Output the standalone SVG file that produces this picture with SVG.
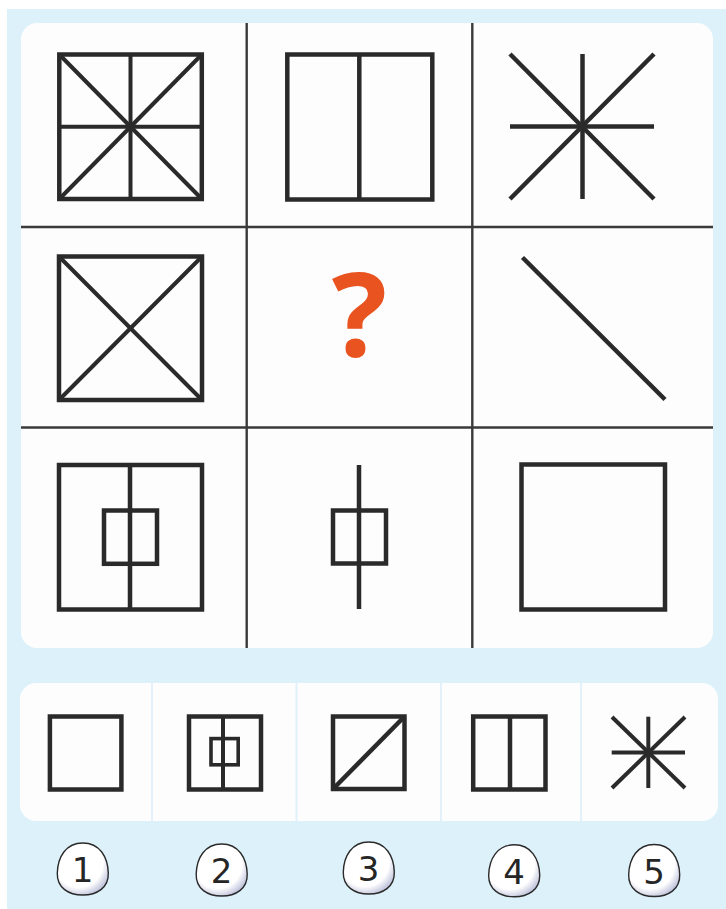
<svg xmlns="http://www.w3.org/2000/svg" width="726" height="909" viewBox="0 0 726 909">
<style>
.fig{fill:none;stroke:#2a2a2a;stroke-width:4.5}
.thin{fill:none;stroke:#2a2a2a;stroke-width:4}
.grid{stroke:#3a3a3a;stroke-width:2.4}
.sep{stroke:#e3f1fa;stroke-width:2}
.num{font-family:"DejaVu Sans","Liberation Sans",sans-serif;font-size:34px;fill:#262626;text-anchor:middle}
.q{font-family:"Open Sans","Noto Sans",sans-serif;font-weight:bold;font-size:116px;fill:#e8531f;text-anchor:middle}
</style>
<defs>
<radialGradient id="peb" cx="0.42" cy="0.38" r="0.68">
<stop offset="0.7" stop-color="#ffffff"/>
<stop offset="1" stop-color="#b7bbd6"/>
</radialGradient>
<path id="egg" d="M0,-26 C17,-26 25,-12 25.5,4 C26,19 14,26 0,26 C-14,26 -26,19 -25.5,4 C-25,-12 -17,-26 0,-26 Z" fill="url(#peb)" stroke="#2a2a2a" stroke-width="1.4"/>
</defs>
<rect x="0" y="0" width="726" height="909" fill="#ffffff"/>
<rect x="7" y="9" width="719" height="900" fill="#dcf1fa"/>
<rect id="panel" x="21" y="23" width="692" height="625" rx="16" fill="#fdfdfd"/>
<rect id="answers" x="20" y="683" width="698" height="138" rx="16" fill="#fdfdfd"/>
<g id="connectors">
<line class="grid" x1="246.7" y1="23" x2="246.7" y2="648"/>
<line class="grid" x1="472.3" y1="23" x2="472.3" y2="648"/>
<line class="grid" x1="21" y1="227" x2="713" y2="227"/>
<line class="grid" x1="21" y1="427.5" x2="713" y2="427.5"/>
<line class="sep" x1="152" y1="683" x2="152" y2="821"/>
<line class="sep" x1="296.5" y1="683" x2="296.5" y2="821"/>
<line class="sep" x1="441" y1="683" x2="441" y2="821"/>
<line class="sep" x1="581" y1="683" x2="581" y2="821"/>
</g>
<g id="r1c1">
<rect class="fig" x="59.3" y="54.5" width="142.5" height="144.5"/>
<line class="thin" x1="130.5" y1="54.5" x2="130.5" y2="199"/>
<line class="thin" x1="59.3" y1="126.7" x2="201.8" y2="126.7"/>
<line class="thin" x1="59.3" y1="54.5" x2="201.8" y2="199"/>
<line class="thin" x1="201.8" y1="54.5" x2="59.3" y2="199"/>
</g>
<g id="r1c2">
<rect class="fig" x="287.3" y="54.5" width="145" height="145"/>
<line class="fig" x1="359.3" y1="54.5" x2="359.3" y2="199.5"/>
</g>
<g id="r1c3">
<line class="fig" x1="582.5" y1="54" x2="582.5" y2="199"/>
<line class="fig" x1="510" y1="126.5" x2="654" y2="126.5"/>
<line class="fig" x1="510" y1="54" x2="654" y2="199"/>
<line class="fig" x1="654" y1="54" x2="510" y2="199"/>
</g>
<g id="r2c1">
<rect class="fig" x="59" y="256.5" width="143" height="143.5"/>
<line class="thin" x1="59" y1="256.5" x2="202" y2="400"/>
<line class="thin" x1="202" y1="256.5" x2="59" y2="400"/>
</g>
<g id="r2c2">
<text class="q" x="359.5" y="356">?</text>
</g>
<g id="r2c3">
<line class="fig" x1="522.5" y1="257.5" x2="665" y2="399.5"/>
</g>
<g id="r3c1">
<rect class="fig" x="59" y="465" width="143" height="144.5"/>
<line class="fig" x1="130" y1="465" x2="130" y2="609.5"/>
<rect class="fig" x="104" y="510.5" width="53" height="53.3"/>
</g>
<g id="r3c2">
<line class="fig" x1="359" y1="465" x2="359" y2="609"/>
<rect class="fig" x="333" y="510.5" width="53" height="53"/>
</g>
<g id="r3c3">
<rect class="fig" x="521.5" y="464.5" width="143.5" height="145"/>
</g>
<g id="opt1">
<rect class="fig" x="49.9" y="716.5" width="71.5" height="73"/>
</g>
<g id="opt2">
<rect class="fig" x="189" y="716.5" width="72" height="73"/>
<line class="thin" x1="223" y1="716.5" x2="223" y2="789.5"/>
<rect class="thin" x="211" y="738.6" width="27.2" height="26.2" style="stroke-width:3.6"/>
</g>
<g id="opt3">
<rect class="fig" x="333" y="716.5" width="71.5" height="72.5"/>
<line class="fig" x1="333" y1="789" x2="404.5" y2="716.5"/>
</g>
<g id="opt4">
<rect class="fig" x="473.2" y="716.5" width="72.3" height="73"/>
<line class="fig" x1="510" y1="716.5" x2="510" y2="789.5"/>
</g>
<g id="opt5">
<line class="thin" x1="648.3" y1="716.7" x2="648.3" y2="788"/>
<line class="thin" x1="611.7" y1="752.5" x2="685" y2="752.5"/>
<line class="thin" x1="612" y1="717" x2="685" y2="788"/>
<line class="thin" x1="685" y1="717" x2="612" y2="788"/>
</g>
<g id="n1"><use href="#egg" x="82.8" y="869"/><text class="num" x="82.5" y="882">1</text></g>
<g id="n2"><use href="#egg" x="221.7" y="870"/><text class="num" x="221.5" y="883">2</text></g>
<g id="n3"><use href="#egg" x="368.8" y="868"/><text class="num" x="368.5" y="881">3</text></g>
<g id="n4"><use href="#egg" x="514.2" y="870.8"/><text class="num" x="514" y="884">4</text></g>
<g id="n5"><use href="#egg" x="654.2" y="870.5"/><text class="num" x="654" y="883.5">5</text></g>
</svg>
